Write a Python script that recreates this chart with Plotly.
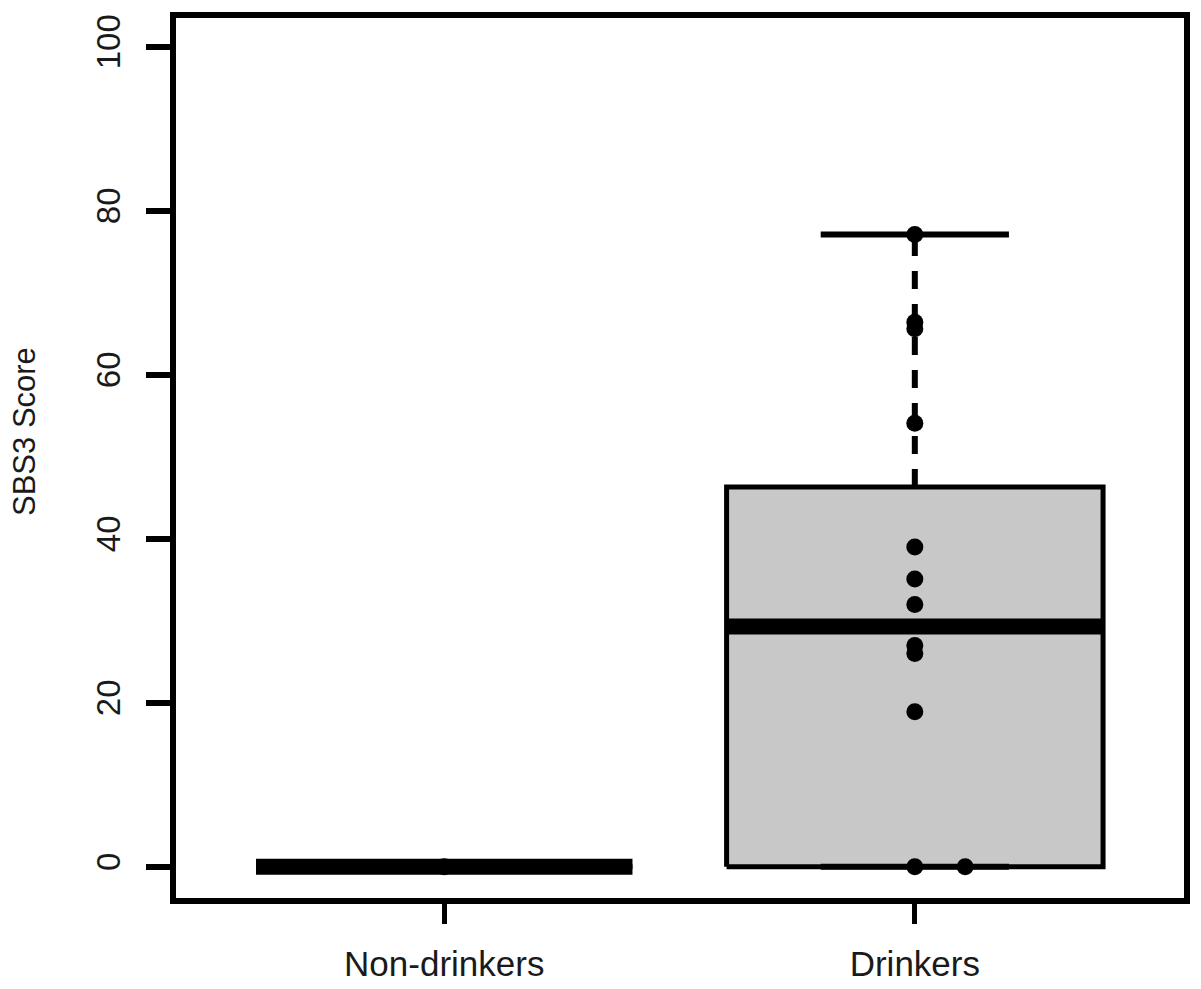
import plotly.graph_objects as go
from collections import Counter

# box statistics per group
groups = ["Non-drinkers", "Drinkers"]
q1 = [0, 0]
median = [0, 29.3]
q3 = [0, 46.3]
lower = [0, 0]
upper = [0, 77.1]

# individual scores plotted over the boxes
nondrinker_scores = [0]
drinker_scores = [77.1, 66.4, 65.6, 54.1, 39.0, 35.1, 32.0, 27.0, 26.0, 18.9, 0, 0]

BOX_W = 0.8
CAP_W = 0.4
STACK = 0.107
FONT = "Liberation Sans, Arial, sans-serif"

fig = go.Figure()

for i, name in enumerate(groups):
    pos = i + 1
    x0, x1 = pos - BOX_W / 2, pos + BOX_W / 2
    # box
    fig.add_trace(go.Scatter(
        x=[x0, x1, x1, x0, x0], y=[q1[i], q1[i], q3[i], q3[i], q1[i]],
        mode='lines', fill='toself', fillcolor='#c8c8c8',
        line=dict(color='black', width=5), showlegend=False, hoverinfo='skip'
    ))
    # dashed whiskers
    for a, b in [(q3[i], upper[i]), (q1[i], lower[i])]:
        fig.add_trace(go.Scatter(
            x=[pos, pos], y=[a, b], mode='lines',
            line=dict(color='black', width=6, dash='18px,15px'),
            showlegend=False, hoverinfo='skip'
        ))
    # caps
    for v in [upper[i], lower[i]]:
        fig.add_trace(go.Scatter(
            x=[pos - CAP_W / 2, pos + CAP_W / 2], y=[v, v], mode='lines',
            line=dict(color='black', width=6), showlegend=False, hoverinfo='skip'
        ))
    # median
    fig.add_trace(go.Scatter(
        x=[x0, x1], y=[median[i], median[i]], mode='lines',
        line=dict(color='black', width=16), showlegend=False, name=name,
        hovertemplate=f'{name}<br>median: %{{y}}<extra></extra>'
    ))

# points, stacked sideways when values repeat
for i, scores in enumerate([nondrinker_scores, drinker_scores]):
    seen = Counter()
    xs = []
    for s in scores:
        xs.append(i + 1 + seen[s] * STACK)
        seen[s] += 1
    fig.add_trace(go.Scatter(
        x=xs, y=scores, mode='markers',
        marker=dict(color='black', size=17, line=dict(width=0)),
        showlegend=False, name=groups[i],
        hovertemplate='%{y}<extra></extra>'
    ))

fig.add_annotation(
    text="SBS3 Score", textangle=-90, xref='paper', yref='paper',
    x=(24 - 176) / 1008, y=(898 - 432) / 880, xanchor='center', yanchor='middle',
    showarrow=False, font=dict(family=FONT, size=31, color='#1a1a1a')
)

fig.update_layout(
    width=1201, height=989,
    margin=dict(l=176, r=17, t=18, b=91),
    plot_bgcolor='white', paper_bgcolor='white',
    font=dict(family=FONT, color='#1a1a1a'),
    xaxis=dict(
        range=[0.43, 2.572], tickvals=[1, 2], ticktext=groups,
        ticks='outside', ticklen=20, tickwidth=5, tickcolor='black',
        showline=True, mirror=True, linewidth=6, linecolor='black',
        showgrid=False, zeroline=False, tickfont=dict(size=35),
        ticklabelstandoff=10, automargin=False
    ),
    yaxis=dict(
        range=[-3.8, 103.5], tickvals=[0, 20, 40, 60, 80, 100],
        ticks='outside', ticklen=24, tickwidth=6, tickcolor='black',
        showline=True, mirror=True, linewidth=6, linecolor='black',
        showgrid=False, zeroline=False, tickangle=-90, tickfont=dict(size=33),
        ticklabelstandoff=13, automargin=False
    ),
)

# drop the browser's default body margin so the figure sits at the page corner
fig.write_html(
    "out.html",
    config={'displayModeBar': False},
    post_script="document.body.style.margin='0';document.body.style.overflow='hidden';"
)
